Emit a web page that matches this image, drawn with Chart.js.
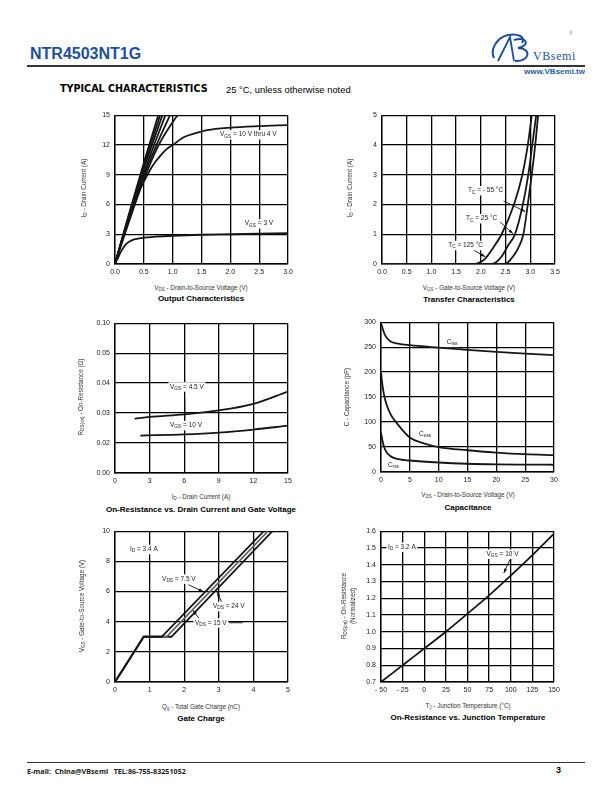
<!DOCTYPE html>
<html>
<head>
<meta charset="utf-8">
<script src="https://cdn.jsdelivr.net/npm/chart.js@4.4.1/dist/chart.umd.min.js"></script>
<style>
body { margin: 0; background: #fff; font-family: "Liberation Sans", Arial, sans-serif; }
#page { position: relative; width: 612px; height: 792px; overflow: hidden; background: #fff; }
.t { position: absolute; white-space: nowrap; }
canvas { position: absolute; }
.ax { font-size: 6.3px; color: #333; transform: translateX(-50%); }
.ay { font-size: 6.3px; color: #333; transform: translate(-50%, -50%) rotate(-90deg); }
.ttl { font-size: 8px; font-weight: bold; color: #000; transform: translateX(-50%); }
sub { font-size: 72%; vertical-align: -0.3em; line-height: 0; }
</style>
</head>
<body>
<div id="page">
  <div class="t" style="left:30px;top:45px;font-size:16px;font-weight:bold;color:#1d4f9e;">NTR4503NT1G</div>
  <div style="position:absolute;left:27px;top:65px;width:558px;height:1.5px;background:#333;"></div>
  <svg style="position:absolute;left:488px;top:28px;" width="100" height="40" viewBox="0 0 100 40">
    <path d="M6 30 C2 22 8 10 20 7 C30 5 38 9 34 15" fill="none" stroke="#1d4f9e" stroke-width="2"/>
    <path d="M10 33 L22 9 L26 33" fill="none" stroke="#1d4f9e" stroke-width="1.8"/>
    <path d="M26 12 C40 8 42 18 30 20 C44 20 42 34 27 33" fill="none" stroke="#1d4f9e" stroke-width="2"/>
    <text x="81" y="7" font-size="5" fill="#888" font-family="Liberation Sans">®</text>
  </svg>
  <div class="t" style="left:533px;top:49px;font-size:12px;color:#1d4f9e;font-family:'Liberation Serif',serif;letter-spacing:0.6px;">VBsemi</div>
  <div class="t" style="right:27px;top:67px;font-size:8px;font-weight:bold;color:#1d5fa8;">www.VBsemi.tw</div>
  <div class="t" style="left:60px;top:83px;font-size:9.6px;font-weight:bold;color:#000;font-family:'DejaVu Sans',sans-serif;">TYPICAL CHARACTERISTICS</div>
  <div class="t" style="left:226px;top:84px;font-size:9.4px;color:#000;">25 °C, unless otherwise noted</div>

  <canvas id="c1"></canvas>
  <canvas id="c2"></canvas>
  <canvas id="c3"></canvas>
  <canvas id="c4"></canvas>
  <canvas id="c5"></canvas>
  <canvas id="c6"></canvas>

  <div class="t ax" style="left:201px;top:284px;">V<sub>DS</sub> - Drain-to-Source Voltage (V)</div>
  <div class="t ttl" style="left:201px;top:294px;">Output Characteristics</div>
  <div class="t ay" style="left:83px;top:188px;">I<sub>D</sub> - Drain Current (A)</div>

  <div class="t ax" style="left:469px;top:284px;">V<sub>GS</sub> - Gate-to-Source Voltage (V)</div>
  <div class="t ttl" style="left:469px;top:295px;">Transfer Characteristics</div>
  <div class="t ay" style="left:349px;top:188px;">I<sub>D</sub> - Drain Current (A)</div>

  <div class="t ax" style="left:201px;top:493px;">I<sub>D</sub> - Drain Current (A)</div>
  <div class="t ttl" style="left:201px;top:505px;">On-Resistance vs. Drain Current and Gate Voltage</div>
  <div class="t ay" style="left:80px;top:397px;">R<sub>DS(on)</sub> - On-Resistance (Ω)</div>

  <div class="t ax" style="left:468px;top:491px;">V<sub>DS</sub> - Drain-to-Source Voltage (V)</div>
  <div class="t ttl" style="left:468px;top:503px;">Capacitance</div>
  <div class="t ay" style="left:346px;top:397px;">C - Capacitance (pF)</div>

  <div class="t ax" style="left:201px;top:703px;">Q<sub>g</sub> - Total Gate Charge (nC)</div>
  <div class="t ttl" style="left:201px;top:714px;">Gate Charge</div>
  <div class="t ay" style="left:81px;top:606px;">V<sub>GS</sub> - Gate-to-Source Voltage (V)</div>

  <div class="t ax" style="left:468px;top:702px;">T<sub>J</sub> - Junction Temperature (°C)</div>
  <div class="t ttl" style="left:468px;top:713px;">On-Resistance vs. Junction Temperature</div>
  <div class="t ay" style="left:343px;top:606px;">R<sub>DS(on)</sub> - On-Resistance</div>
  <div class="t ay" style="left:352px;top:606px;">(Normalized)</div>

  <div style="position:absolute;left:27px;top:762px;width:558px;height:1px;background:#333;"></div>
  <div class="t" style="left:27px;top:766px;font-size:7.2px;font-weight:bold;color:#222;font-family:'Noto Sans',sans-serif;">E-mail:&nbsp; China@VBsemi&nbsp;&nbsp; TEL:86-755-83251052</div>
  <div class="t" style="left:556px;top:765px;font-size:9px;font-weight:bold;color:#000;">3</div>
</div>

<script>
// Output characteristics: [VDS, ID]
const out10V = [[0,0],[0.25,5.2],[0.5,10.2],[0.76,15.2]];
const out9V = [[0,0],[0.25,5.1],[0.5,9.9],[0.8,15.3]];
const out8V = [[0,0],[0.25,5.0],[0.5,9.6],[0.84,15.3]];
const out7V = [[0,0],[0.25,4.85],[0.5,9.2],[0.9,15.4]];
const out6V = [[0,0],[0.25,4.7],[0.5,8.9],[0.75,12.4],[0.97,15.2]];
const out5V = [[0,0],[0.25,4.4],[0.5,8.5],[0.75,11.9],[1.0,14.3],[1.1,15.1]];
const out4V = [[0,0],[0.1,2.0],[0.2,3.9],[0.3,5.6],[0.4,7.1],[0.5,8.3],[0.6,9.4],[0.7,10.3],[0.8,11.0],[0.9,11.6],[1.0,12.0],[1.2,12.8],[1.4,13.2],[1.6,13.5],[2.0,13.75],[2.5,13.9],[3.0,14.0]];
const out3V = [[0,0],[0.05,0.6],[0.1,1.2],[0.15,1.7],[0.2,2.05],[0.3,2.4],[0.4,2.55],[0.5,2.65],[0.7,2.75],[1.0,2.85],[1.5,2.95],[2.0,3.0],[2.5,3.05],[3.0,3.1]];
const outXTicks = ['0.0','0.5','1.0','1.5','2.0','2.5','3.0'];
const outYTicks = ['0','3','6','9','12','15'];

// Transfer characteristics: [VGS, ID]
const tr125 = [[0,0],[1.8,0],[1.95,0.03],[2.1,0.2],[2.25,0.55],[2.42,1.0],[2.67,2.0],[2.84,3.0],[2.95,4.0],[3.03,5.0],[3.06,5.4]];
const tr25 = [[0,0],[2.2,0],[2.3,0.05],[2.42,0.25],[2.55,0.62],[2.69,1.0],[2.85,2.0],[2.96,3.0],[3.04,4.0],[3.12,5.0],[3.15,5.4]];
const trM55 = [[0,0],[2.45,0],[2.55,0.06],[2.65,0.25],[2.75,0.52],[2.86,1.0],[2.95,2.0],[3.03,3.0],[3.10,4.0],[3.16,5.0],[3.19,5.4]];
const trXTicks = ['0.0','0.5','1.0','1.5','2.0','2.5','3.0','3.5'];
const trYTicks = ['0','1','2','3','4','5'];

// On-resistance vs drain current: [ID, RDS]
const rds45 = [[1.7,0.0281],[3,0.0287],[6,0.0296],[9,0.0309],[12,0.0331],[15,0.0372]];
const rds10 = [[2.2,0.0225],[6,0.0229],[9,0.0235],[12,0.0245],[15,0.0258]];
const rdsXTicks = ['0','3','6','9','12','15'];
const rdsYTicks = ['0.00','0.02','0.03','0.04','0.05','0.10'];

// Capacitance: [VDS, pF]
const ciss = [[0,298],[0.35,285],[0.8,272],[1.6,262],[3,257],[5,254],[10,249],[15,244.5],[20,240.5],[25,237],[30,234]];
const coss = [[0,198],[0.35,166],[0.75,143],[1.6,117],[2.8,97],[5,69],[7.4,57.5],[10,50],[15,43.6],[20,39],[25,35.7],[30,33.7]];
const crss = [[0,78.5],[0.35,57.5],[0.75,44],[1.6,32],[3,25.7],[5,23],[10,19],[15,16.5],[20,15.3],[25,14.8],[30,14.5]];
const capXTicks = ['0','5','10','15','20','25','30'];
const capYTicks = ['0','50','100','150','200','250','300'];

// Gate charge: [Qg, VGS]
const qg75 = [[0,0],[0.83,3],[1.35,3],[4.3,10]];
const qg15 = [[0,0],[0.83,3],[1.49,3],[4.42,10]];
const qg24 = [[0,0],[0.83,3],[1.63,3],[4.55,10]];
const qgXTicks = ['0','1','2','3','4','5'];
const qgYTicks = ['0','2','4','6','8','10'];

// On-resistance vs junction temperature: [TJ, normalized RDS]
const rdsTemp = [[-50,0.70],[-25,0.80],[0,0.90],[25,1.0],[50,1.108],[75,1.217],[100,1.335],[125,1.457],[150,1.585]];
const tjXTicks = ['- 50','- 25','0','25','50','75','100','125','150'];
const tjYTicks = ['0.7','0.8','0.9','1.0','1.1','1.2','1.3','1.4','1.5','1.6'];

const FONT = '"Liberation Sans", Arial, sans-serif';

function pts(arr) { return arr.map(p => ({x: p[0], y: p[1]})); }

function notesPlugin(items, arrows) {
    return {
        id: 'notes',
        afterDatasetsDraw(chart) {
            const ctx = chart.ctx, sx = chart.scales.x, sy = chart.scales.y;
            ctx.save();
            ctx.strokeStyle = '#111';
            ctx.fillStyle = '#111';
            ctx.lineWidth = 0.9;
            arrows.forEach(a => {
                const x1 = sx.getPixelForValue(a[0]), y1 = sy.getPixelForValue(a[1]);
                const x2 = sx.getPixelForValue(a[2]), y2 = sy.getPixelForValue(a[3]);
                ctx.beginPath();
                ctx.moveTo(x1, y1);
                ctx.lineTo(x2, y2);
                ctx.stroke();
                if (a[4] === false) return;
                const ang = Math.atan2(y2 - y1, x2 - x1);
                ctx.beginPath();
                ctx.moveTo(x2, y2);
                ctx.lineTo(x2 - 4.5 * Math.cos(ang) + 1.6 * Math.sin(ang), y2 - 4.5 * Math.sin(ang) - 1.6 * Math.cos(ang));
                ctx.lineTo(x2 - 4.5 * Math.cos(ang) - 1.6 * Math.sin(ang), y2 - 4.5 * Math.sin(ang) + 1.6 * Math.cos(ang));
                ctx.closePath();
                ctx.fill();
            });
            ctx.textBaseline = 'middle';
            items.forEach(n => {
                const parts = n.text.split(/_\{([^}]*)\}/);
                let w = 0;
                parts.forEach((p, i) => {
                    ctx.font = (i % 2 ? '4.8px ' : '6.5px ') + FONT;
                    w += ctx.measureText(p).width;
                });
                let px = sx.getPixelForValue(n.x);
                const py = sy.getPixelForValue(n.y);
                ctx.fillStyle = '#fff';
                ctx.fillRect(px - 1.5, py - 4.5, w + 3, 9.5);
                ctx.fillStyle = '#222';
                parts.forEach((p, i) => {
                    ctx.font = (i % 2 ? '4.8px ' : '6.5px ') + FONT;
                    ctx.fillText(p, px, i % 2 ? py + 1.8 : py);
                    px += ctx.measureText(p).width;
                });
            });
            ctx.restore();
        }
    };
}

function axis(min, max, step, labels, size, isX) {
    return {
        type: 'linear', min: min, max: max,
        ticks: {
            stepSize: step, autoSkip: false, maxRotation: 0, padding: isX ? 4 : 5,
            color: '#222', font: {family: FONT, size: 7},
            callback: (v, i) => labels[i]
        },
        grid: {color: '#000', lineWidth: 1.3, drawTicks: false},
        border: {color: '#000', width: 1.4},
        afterFit: s => { if (isX) s.height = size; else s.width = size; }
    };
}

function makeChart(id, box, xAxis, yAxis, datasets, items, arrows, straight) {
    const cv = document.getElementById(id);
    const w = box.r - box.l + 36 + 12, h = box.b - box.t + 8 + 14;
    cv.width = w; cv.height = h;
    cv.style.left = (box.l - 36) + 'px';
    cv.style.top = (box.t - 8) + 'px';
    cv.style.width = w + 'px'; cv.style.height = h + 'px';
    new Chart(cv.getContext('2d'), {
        type: 'line',
        data: {
            datasets: datasets.map(d => ({
                data: pts(d.data),
                borderColor: d.color || '#161616',
                borderWidth: d.width || 1.8,
                pointRadius: 0,
                fill: false,
                tension: straight ? 0 : 0.4,
                cubicInterpolationMode: straight ? 'default' : 'monotone'
            }))
        },
        options: {
            responsive: false,
            animation: false,
            layout: {padding: {top: 8, right: 12, left: 0, bottom: 0}},
            plugins: {legend: {display: false}, tooltip: {enabled: false}},
            scales: {x: xAxis, y: yAxis}
        },
        plugins: [notesPlugin(items, arrows)]
    });
}

makeChart('c1', {l: 115, t: 114, r: 288, b: 264},
    axis(0, 3, 0.5, outXTicks, 14, true), axis(0, 15, 3, outYTicks, 36, false),
    [{data: out10V}, {data: out9V}, {data: out8V}, {data: out7V}, {data: out6V}, {data: out5V}, {data: out4V}, {data: out3V}],
    [{x: 1.82, y: 13.05, text: 'V_{GS} = 10 V thru 4 V'}, {x: 2.25, y: 4.07, text: 'V_{GS} = 3 V'}],
    []);

makeChart('c2', {l: 382, t: 114, r: 555, b: 264},
    axis(0, 3.5, 0.5, trXTicks, 14, true), axis(0, 5, 1, trYTicks, 36, false),
    [{data: tr125}, {data: tr25}, {data: trM55}],
    [{x: 1.74, y: 2.47, text: 'T_{C} = - 55 °C'}, {x: 1.70, y: 1.53, text: 'T_{C} = 25 °C'}, {x: 1.34, y: 0.63, text: 'T_{C} = 125 °C'}],
    [[2.46, 2.12, 2.9, 1.76], [2.39, 1.41, 2.65, 1.02], [1.85, 0.47, 2.09, 0.24]]);

makeChart('c3', {l: 115, t: 322, r: 288, b: 473},
    axis(0, 15, 3, rdsXTicks, 14, true), axis(0.01, 0.06, 0.01, rdsYTicks, 36, false),
    [{data: rds45}, {data: rds10}],
    [{x: 4.77, y: 0.0388, text: 'V_{GS} = 4.5 V'}, {x: 4.77, y: 0.0259, text: 'V_{GS} = 10 V'}],
    [[6.05, 0.0347, 6.05, 0.0278, false]]);

makeChart('c4', {l: 381, t: 321, r: 554, b: 472},
    axis(0, 30, 5, capXTicks, 14, true), axis(0, 300, 50, capYTicks, 36, false),
    [{data: ciss}, {data: coss}, {data: crss}],
    [{x: 11.4, y: 260, text: 'C_{iss}'}, {x: 6.6, y: 75.5, text: 'C_{oss}'}, {x: 1.2, y: 14, text: 'C_{rss}'}],
    []);

makeChart('c5', {l: 115, t: 530, r: 288, b: 682},
    axis(0, 5, 1, qgXTicks, 14, true), axis(0, 10, 2, qgYTicks, 36, false),
    [{data: qg75}, {data: qg15, color: '#666'}, {data: qg24}],
    [{x: 0.43, y: 8.8, text: 'I_{D} = 3.4 A'}, {x: 1.36, y: 6.84, text: 'V_{DS} = 7.5 V'},
     {x: 2.83, y: 5.02, text: 'V_{DS} = 24 V'}, {x: 2.31, y: 3.93, text: 'V_{DS} = 15 V'}],
    [[2.12, 6.45, 2.55, 6.0], [3.08, 5.32, 2.95, 5.95], [2.43, 4.22, 2.25, 4.75], [3.3, 3.93, 3.69, 3.93, false]],
    true);

makeChart('c6', {l: 381, t: 530, r: 554, b: 682},
    axis(-50, 150, 25, tjXTicks, 14, true), axis(0.7, 1.6, 0.1, tjYTicks, 36, false),
    [{data: rdsTemp}],
    [{x: -42, y: 1.505, text: 'I_{D} = 3.2 A'}, {x: 72, y: 1.464, text: 'V_{GS} = 10 V'}],
    [[99, 1.43, 92, 1.35]]);
</script>
</body>
</html>
